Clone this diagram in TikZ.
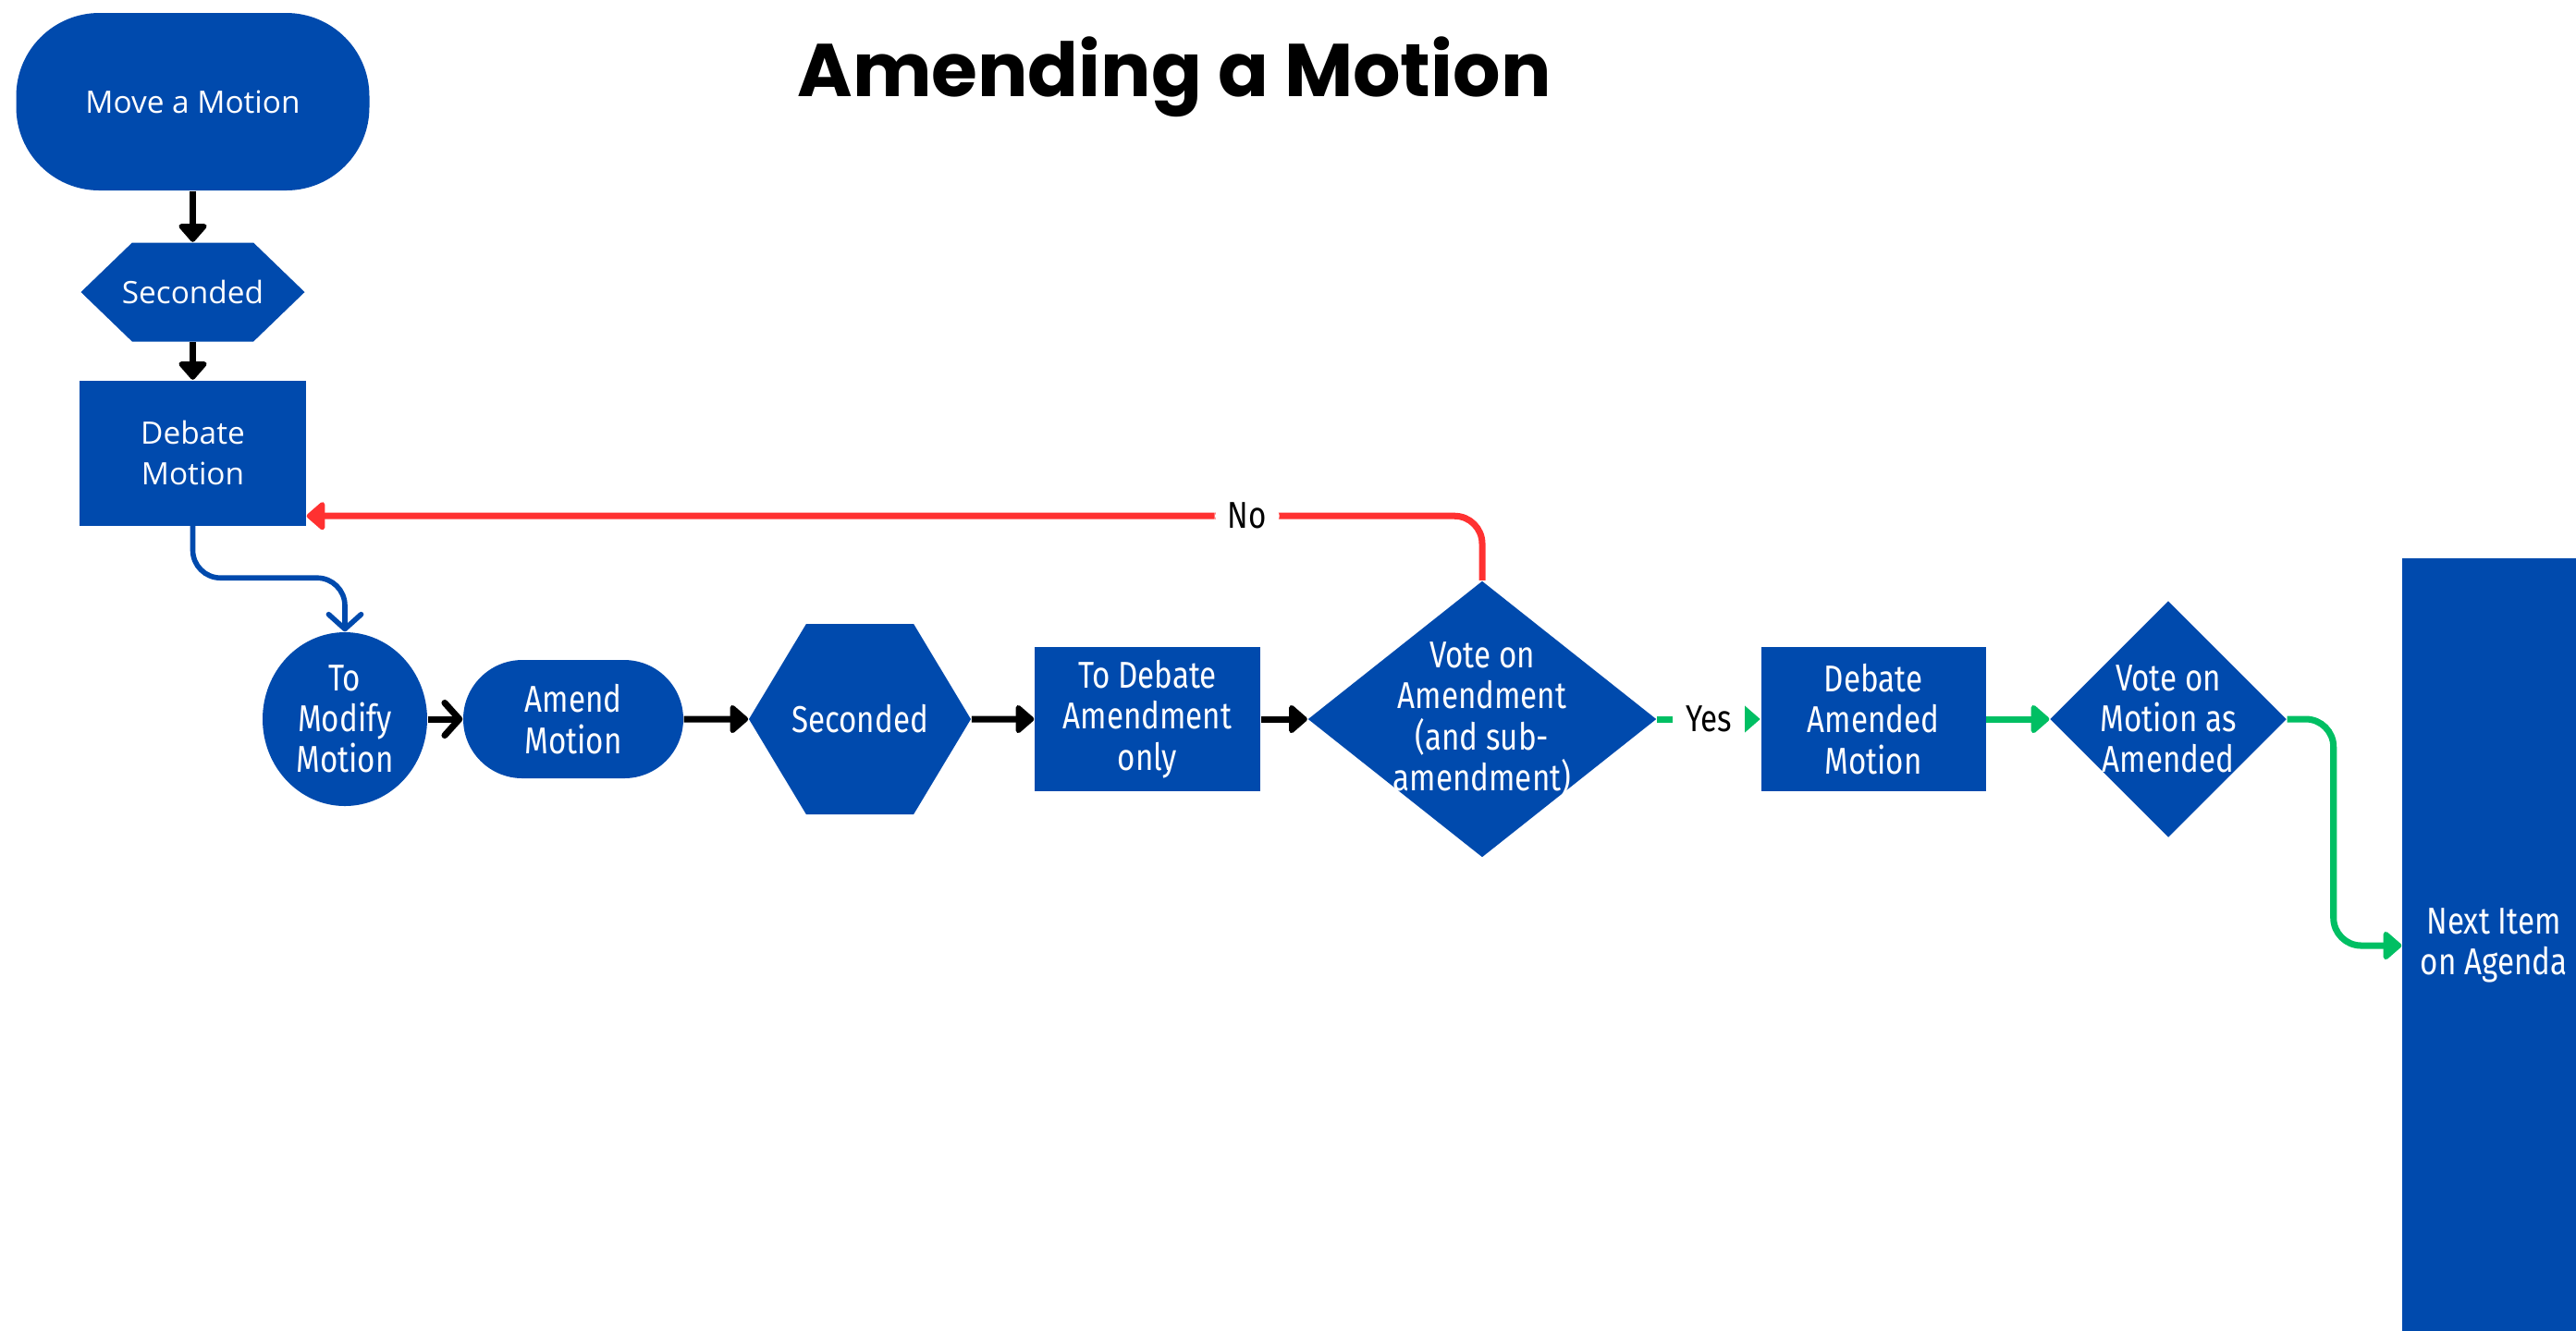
\documentclass[tikz,border=0pt]{standalone}
\usepackage{fontspec}
\usetikzlibrary{arrows.meta,shapes.geometric,shapes.symbols}
\definecolor{boxblue}{HTML}{004AAD}
\definecolor{noRed}{HTML}{FF3131}
\definecolor{yesGreen}{HTML}{00BF63}
\newfontfamily\wideface{Open Sans}
\newfontfamily\narrowface[FakeStretch=0.82]{Fira Sans}
\newfontfamily\titleface{Poppins}

\tikzset{
  box/.style={fill=boxblue, text=white, align=center, inner sep=0pt},
  wide/.style={font=\wideface\fontsize{9.5}{12.6}\selectfont},
  narrow/.style={font=\narrowface\fontsize{11.5}{12.6}\selectfont},
  hexa/.style={signal, signal to=east and west},
  lbl/.style={narrow, fill=white, text=black, inner xsep=0.14cm},
  blk/.style={line width=2pt, -{Triangle[round,length=6pt,width=10pt]}},
  chev/.style={line width=2pt, -{Straight Barb[round,length=4.5pt,width=10pt]}},
  bluearr/.style={boxblue, line width=1.6pt, rounded corners=0.3cm, -{Straight Barb[round,length=4.5pt,width=10pt]}},
  noarr/.style={noRed, line width=2pt, rounded corners=0.3cm, -{Triangle[round,length=6pt,width=10pt]}},
  grnarr/.style={yesGreen, line width=2pt, rounded corners=0.3cm, -{Triangle[round,length=6pt,width=10pt]}}
}

\begin{document}
\begin{tikzpicture}
\useasboundingbox (0,0) rectangle (27.86,-14.39);

\node [font=\titleface\bfseries\fontsize{23}{28}\selectfont] (title) at (12.70,-0.83) {Amending a Motion};

\node [box, wide, rounded corners=0.9cm, minimum width=3.82cm, minimum height=1.92cm] (move) at (2.085,-1.10) {Move a Motion};
\node [box, wide, hexa, signal pointer angle=88, minimum width=2.42cm, minimum height=1.07cm] (sec1) at (2.085,-3.16) {\makebox[0pt]{Seconded}};
\node [box, wide, minimum width=2.45cm, minimum height=1.57cm] (debate) at (2.085,-4.90) {Debate\\Motion};

\node [box, narrow, ellipse, minimum width=1.78cm, minimum height=1.88cm] (modify) at (3.73,-7.78) {To\\Modify\\Motion};
\node [box, narrow, rounded corners=0.64cm, minimum width=2.38cm, minimum height=1.28cm] (amend) at (6.20,-7.78) {Amend\\Motion};
\node [box, narrow, hexa, signal pointer angle=118, minimum width=2.40cm, minimum height=2.06cm] (sec2) at (9.30,-7.78) {\makebox[0pt]{Seconded}};
\node [box, narrow, minimum width=2.44cm, minimum height=1.56cm] (todeb) at (12.41,-7.78) {To Debate\\Amendment\\only};
\node [box, diamond, minimum width=3.77cm, minimum height=2.99cm,
  label={[narrow, text=white, align=center]center:Vote on\\Amendment\\(and sub-\\amendment)}] (vote1) at (16.03,-7.78) {};
\node [box, narrow, minimum width=2.43cm, minimum height=1.56cm] (debam) at (20.26,-7.78) {Debate\\Amended\\Motion};
\node [box, diamond, minimum width=2.56cm, minimum height=2.56cm,
  label={[narrow, text=white, align=center]center:Vote on\\Motion as\\Amended}] (vote2) at (23.45,-7.78) {};
\node [box, narrow, minimum width=1.98cm, minimum height=8.38cm] (next) at (26.97,-10.23) {Next Item\\on Agenda};

\draw[blk] (move) -- (sec1);
\draw[blk] (sec1) -- (debate);
\draw[bluearr] (debate.south) -- ++(0,-0.56) -| (modify.north);
\draw[chev] (modify) -- (amend);
\draw[blk] (amend) -- (sec2);
\draw[blk] (sec2) -- (todeb);
\draw[blk] (todeb) -- (vote1);
\draw[noarr] (vote1.north) |- node[pos=0.6, lbl] {No} ([yshift=0.11cm]debate.south east);
\draw[yesGreen, line width=2pt, -{Triangle[length=6pt,width=10pt]}] (vote1) -- node[lbl] {Yes} (debam);
\draw[grnarr] (debam) -- (vote2);
\draw[grnarr] (vote2.east) -- ++(0.5,0) |- (next.west);
\end{tikzpicture}
\end{document}
